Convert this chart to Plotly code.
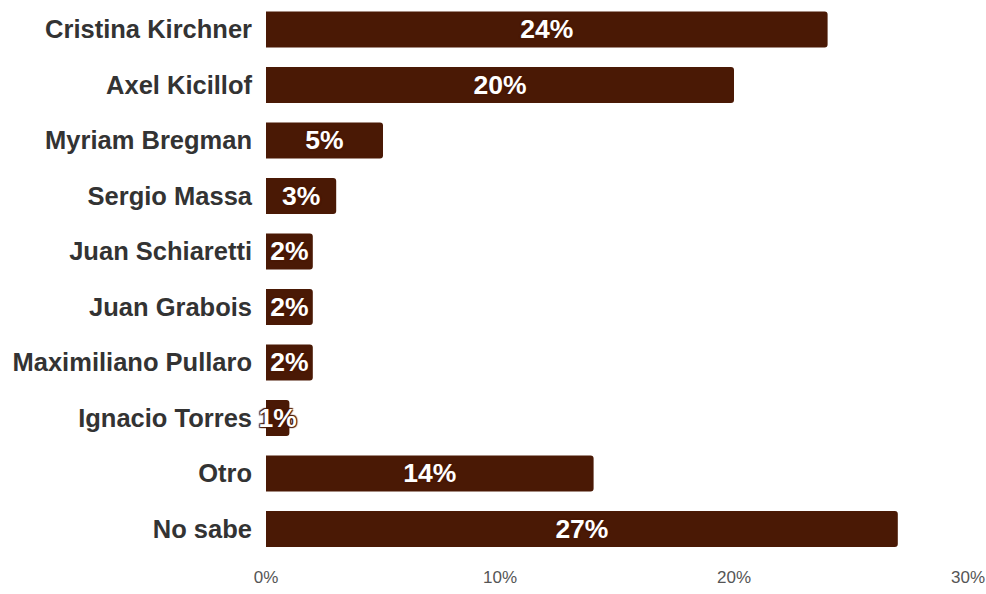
import plotly.graph_objects as go

categories = ["Cristina Kirchner", "Axel Kicillof", "Myriam Bregman", "Sergio Massa",
              "Juan Schiaretti", "Juan Grabois", "Maximiliano Pullaro", "Ignacio Torres",
              "Otro", "No sabe"]
values = [24, 20, 5, 3, 2, 2, 2, 1, 14, 27]
tick_vals = [0, 10, 20, 30]
tick_text = ["0%", "10%", "20%", "30%"]

BAR = "#4a1905"
labels = [f"{v}%" for v in values]

fig = go.Figure(go.Bar(
    x=values, y=categories, orientation="h",
    text=labels, texttemplate="%{text}",
    marker=dict(color=BAR, cornerradius=3, line=dict(width=0)),
    textposition="inside", insidetextanchor="middle", textangle=0,
    constraintext="none", cliponaxis=False,
    textfont=dict(family="Liberation Sans, Arial, sans-serif", size=26.5, color="white",
                  weight="bold",
                  shadow="1px 1px 1px #4a1905, -1px -1px 1px #4a1905, 1px -1px 1px #4a1905, -1px 1px 1px #4a1905"),
    hoverinfo="skip",
))

fig.update_layout(
    width=986, height=594,
    margin=dict(l=266, r=18, t=8, b=37),
    paper_bgcolor="white", plot_bgcolor="white",
    bargap=0.35,
    showlegend=False,
    xaxis=dict(range=[0, 30], tickvals=tick_vals, ticktext=tick_text,
               showgrid=False, zeroline=False, showline=False, automargin=False,
               tickfont=dict(family="Liberation Sans, Arial, sans-serif", size=17, color="#555555"),
               ticklabelstandoff=8, fixedrange=True),
    yaxis=dict(range=[9.505, -0.387], showgrid=False, zeroline=False, showline=False,
               automargin=False,
               tickfont=dict(family="Liberation Sans, Arial, sans-serif", size=25.5, color="#333333",
                             weight="bold"),
               ticklabelstandoff=13, fixedrange=True),
)

fig.write_html("out.html",
               config={"displayModeBar": False, "staticPlot": True},
               post_script="document.body.style.margin='0';document.body.style.overflow='hidden';")
